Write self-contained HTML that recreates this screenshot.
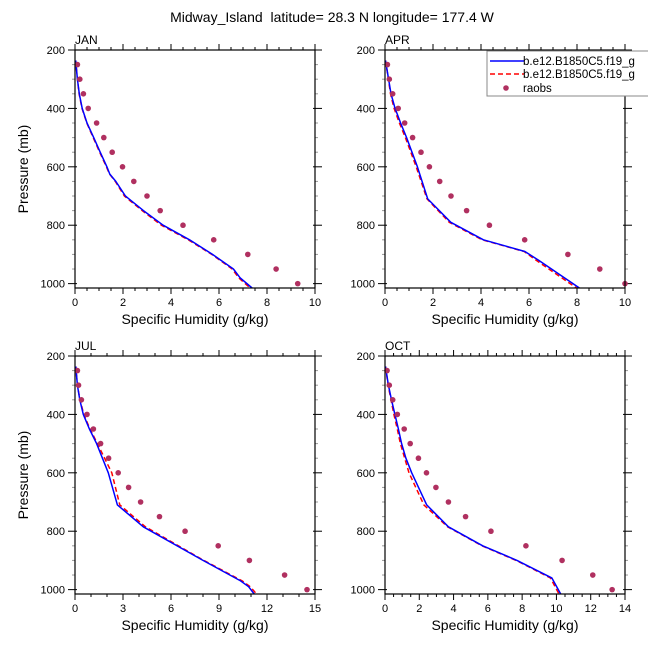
<!DOCTYPE html>
<html><head><meta charset="utf-8">
<style>
body{margin:0;background:#fff;}
svg text{font-family:"Liberation Sans",sans-serif;fill:#000;}
</style></head>
<body>
<svg id="c" width="648" height="648" viewBox="0 0 648 648" xmlns="http://www.w3.org/2000/svg">
<text x="332" y="22" font-size="14" text-anchor="middle" xml:space="preserve">Midway_Island  latitude= 28.3 N longitude= 177.4 W</text>
</svg>
<script>
// Data arrays
const panelNames = ["JAN","APR","JUL","OCT"];
const xMaxes = [10,10,15,14];
const xTickSteps = [2,2,3,2];
const xMinorSteps = [0.5,0.5,1,0.5];
const yTicks = [200,400,600,800,1000];
const obsP = [250,300,350,400,450,500,550,600,650,700,750,800,850,900,950,1000];
const janObs = [0.1,0.2,0.35,0.55,0.9,1.2,1.55,1.98,2.45,3.0,3.55,4.5,5.78,7.2,8.38,9.28];
const aprObs = [0.1,0.18,0.32,0.55,0.82,1.15,1.5,1.85,2.28,2.75,3.4,4.35,5.82,7.62,8.95,10.0];
const julObs = [0.15,0.22,0.4,0.75,1.15,1.6,2.1,2.7,3.35,4.1,5.28,6.88,8.95,10.9,13.1,14.5];
const octObs = [0.12,0.25,0.45,0.72,1.12,1.47,1.95,2.42,2.97,3.7,4.7,6.18,8.22,10.33,12.12,13.25];
const janModP = [236,300,350,400,450,500,550,600,625,650,700,710,750,800,850,900,950,980,1015];
const janBlue = [0.03,0.1,0.18,0.3,0.5,0.78,1.05,1.33,1.45,1.7,2.1,2.25,2.85,3.67,4.77,5.73,6.6,6.88,7.38];
const janRed  = [0.03,0.1,0.17,0.29,0.49,0.76,1.03,1.31,1.44,1.68,2.06,2.2,2.8,3.6,4.72,5.7,6.55,6.82,7.3];
const aprModP = [236,300,350,400,450,500,600,710,790,850,890,920,1015];
const aprBlue = [0.02,0.15,0.25,0.42,0.65,0.9,1.35,1.78,2.74,4.1,5.83,6.4,8.1];
const aprRed  = [0.02,0.14,0.23,0.38,0.6,0.85,1.3,1.75,2.68,4.05,5.8,6.3,7.98];
const julModP = [236,300,350,400,450,500,600,710,785,900,970,990,1015];
const julBlue = [0.05,0.15,0.3,0.52,0.9,1.35,2.08,2.65,4.27,8.0,10.35,10.85,11.2];
const julRed  = [0.05,0.15,0.31,0.55,0.94,1.4,2.3,2.8,4.4,8.05,10.45,10.95,11.35];
const octModP = [236,300,350,400,450,500,550,600,710,785,850,900,960,1015];
const octBlue = [0.03,0.2,0.38,0.58,0.78,0.97,1.22,1.56,2.43,3.7,5.7,7.7,9.73,10.25];
const octRed  = [0.03,0.18,0.35,0.52,0.72,0.9,1.15,1.4,2.27,3.65,5.65,7.65,9.65,10.15];

const modP = [janModP,aprModP,julModP,octModP];
const blues = [janBlue,aprBlue,julBlue,octBlue];
const reds = [janRed,aprRed,julRed,octRed];
const obs = [janObs,aprObs,julObs,octObs];

const svg = document.getElementById('c');
const NS = "http://www.w3.org/2000/svg";
function mk(tag, attrs, parent){
  const e = document.createElementNS(NS, tag);
  for (const k in attrs) e.setAttribute(k, attrs[k]);
  (parent||svg).appendChild(e);
  return e;
}
const lefts = [75,385,75,385];
const tops = [50,50,356,356];
const W = 240, H = 238;
const pMin = 200, pMax = 1015;

for (let i=0;i<4;i++){
  const L = lefts[i], T = tops[i];
  const xs = v => L + v / xMaxes[i] * W;
  const ys = p => T + (p - pMin) / (pMax - pMin) * H;
  const g = mk('g', {});
  
  
  const lab = mk('text', {x:L, y:T-6, 'font-size':12}, g);
  lab.textContent = panelNames[i];
  
  
  // x ticks (outward)
  const nMin = Math.round(xMaxes[i]/xMinorSteps[i]);
  for (let k=0; k<=nMin; k++){
    const v = k*xMinorSteps[i];
    const major = Math.abs(v/xTickSteps[i] - Math.round(v/xTickSteps[i]))<1e-6;
    const len = major?6:3;
    const x = xs(v);
    mk('line',{x1:x,y1:T+H,x2:x,y2:T+H+len,stroke:'#000','stroke-width':1},g);
    mk('line',{x1:x,y1:T,x2:x,y2:T-len,stroke:'#000','stroke-width':1},g);
    if (major){
      const t = mk('text',{x:x,y:T+H+18,'font-size':11,'text-anchor':'middle'},g);
      t.textContent = Math.round(v);
      
      
    }
  }
  // y ticks
  for (let p=200; p<=1000; p+=50){
    const major = p%200===0;
    const len = major?7:3;
    const y = ys(p);
    mk('line',{x1:L-len,y1:y,x2:L+(major?2:0),y2:y,stroke:major?'#000':'#999','stroke-width':1},g);
    mk('line',{x1:L+W-(major?2:0),y1:y,x2:L+W+len,y2:y,stroke:major?'#000':'#999','stroke-width':1},g);
  }
  yTicks.forEach(p=>{
    const t = mk('text',{x:L-10,y:ys(p)+4,'font-size':11,'text-anchor':'end'},g);
    t.textContent = p;
    
    
  });
  const xt = mk('text',{x:L+W/2,y:T+H+36,'font-size':14,'text-anchor':'middle'},g);
  xt.textContent = 'Specific Humidity (g/kg)';
  
  
  if (i%2===0){
    const yt = mk('text',{x:0,y:0,'font-size':14,'text-anchor':'middle',transform:`translate(28,${T+H/2}) rotate(-90)`},g);
    yt.textContent = 'Pressure (mb)';
    
    
  }
  // series
  const rp = reds[i].map((v,k)=>xs(v).toFixed(1)+','+ys(modP[i][k]).toFixed(1)).join(' ');
  const rl = mk('polyline',{points:rp,fill:'none',stroke:'#ff0000','stroke-width':1.5,'stroke-dasharray':'5,3','stroke-linejoin':'round'},g);
  
  
  const bp = blues[i].map((v,k)=>xs(v).toFixed(1)+','+ys(modP[i][k]).toFixed(1)).join(' ');
  const bl = mk('polyline',{points:bp,fill:'none',stroke:'#0000ff','stroke-width':1.5,'stroke-linejoin':'round'},g);
  
  
  obs[i].forEach((v,k)=>{
    const c = mk('circle',{cx:xs(v),cy:ys(obsP[k]),r:2.8,fill:'#b03060'},g);
    
    
  });
  const fr = mk('rect',{x:L,y:T,width:W,height:H,fill:'none',stroke:'#000','stroke-width':1.2},g);
  
  
}
// legend
const lg = mk('g',{});


mk('rect',{x:487,y:51,width:170,height:45,fill:'#fff',stroke:'#888','stroke-width':1},lg);
mk('line',{x1:490,y1:61,x2:524,y2:61,stroke:'#0000ff','stroke-width':1.5},lg);
mk('line',{x1:490,y1:74,x2:524,y2:74,stroke:'#ff0000','stroke-width':1.5,'stroke-dasharray':'5,3'},lg);
mk('circle',{cx:506,cy:88,r:2.8,fill:'#b03060'},lg);
const legTexts = ['b.e12.B1850C5.f19_g','b.e12.B1850C5.f19_g','raobs'];
[65,78,92].forEach((y,k)=>{
  const t = mk('text',{x:523,y:y,'font-size':11.5},lg);
  t.textContent = legTexts[k];
  
  
});
</script>
</body></html>
